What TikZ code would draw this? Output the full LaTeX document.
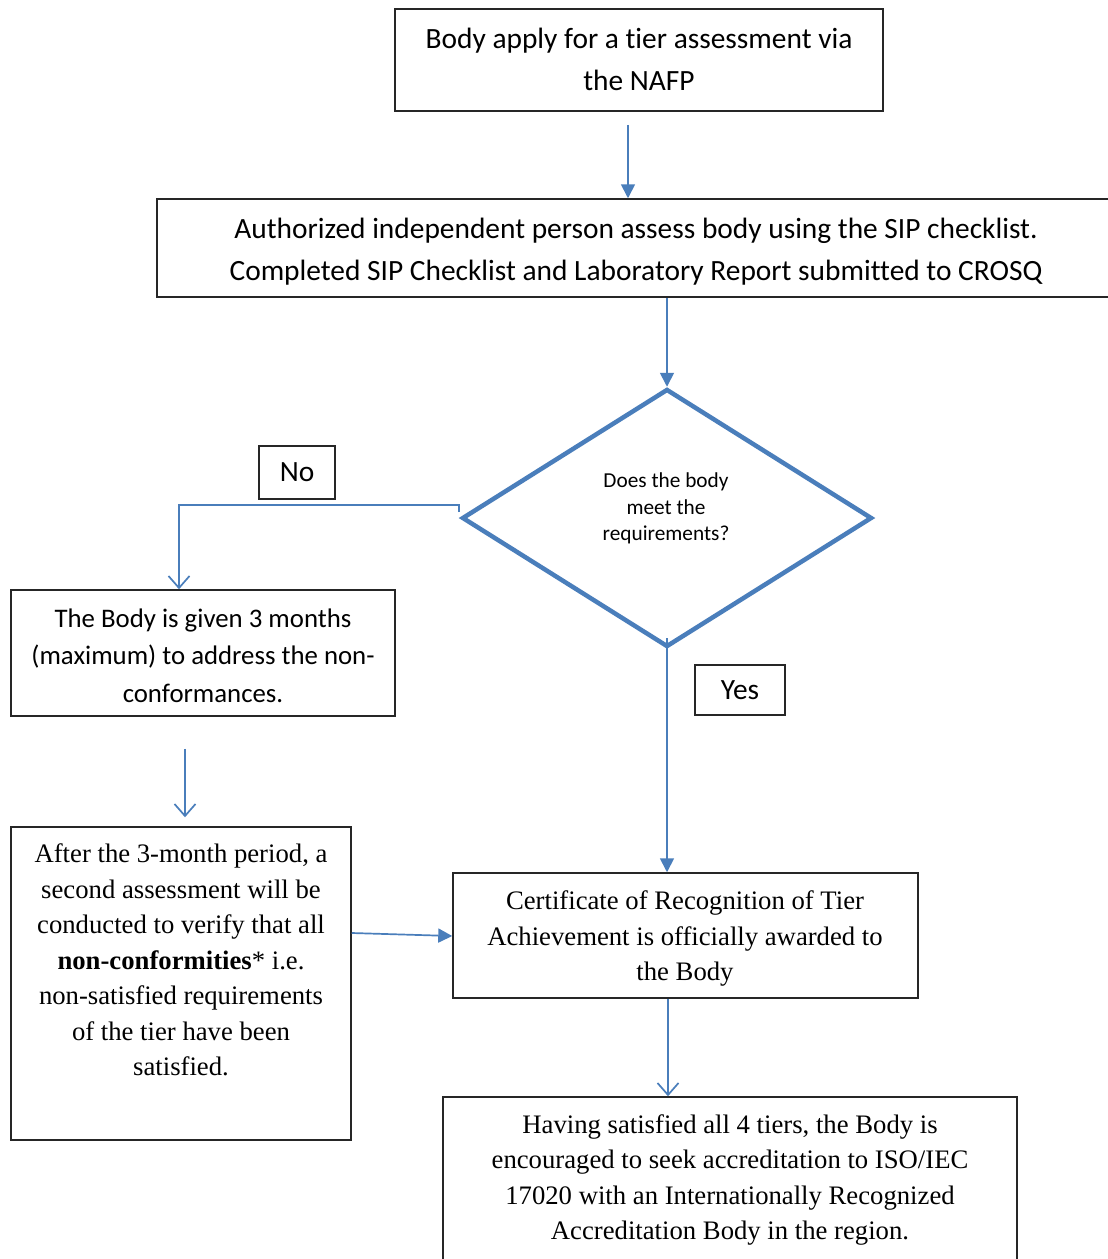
\documentclass[tikz,border=0pt]{standalone}
\usepackage{fontspec}
\setmainfont{Liberation Serif}
\newfontfamily\calfont[Ligatures={NoCommon}]{Carlito}
\usetikzlibrary{arrows.meta,shapes.geometric}
\definecolor{ablue}{HTML}{4A7EBB}
\begin{document}
\begin{tikzpicture}[x=1pt,y=-1pt,
  box/.style={draw=black!85, line width=1.5pt, inner sep=0pt},
  conn/.style={draw=ablue, line width=1.7pt},
  fa/.style={conn, -{Triangle[length=14pt,width=14pt]}},
  va/.style={conn, -{Straight Barb[length=12pt,width=21pt,line width=1.7pt]}},
  cal/.style={font=\calfont\fontsize{29.4}{41.5}\selectfont, align=center, inner sep=0pt},
  tms/.style={font=\fontsize{26.7}{35.5}\selectfont, align=center, inner sep=0pt}]
\useasboundingbox (0,0) rectangle (1108,1259);
\clip (0,0) rectangle (1108,1259);
\fill[white] (0,0) rectangle (1108,1259);

% helper coordinates
\coordinate (x628) at (628,0);
\coordinate (x179) at (179,0);
\coordinate (x185) at (185,0);
\coordinate (x668) at (668,0);
\coordinate (y933) at (0,933);
\coordinate (y936) at (0,936);

% boxes
\node[box, minimum width=488, minimum height=102] (b1) at (639,60) {};
\node[box, minimum width=968, minimum height=98] (b2) at (641,248) {};
\node[diamond, draw=ablue, line width=4.5pt, inner sep=0pt, minimum width=410, minimum height=258] (dia) at (667,518) {};
\node[box, minimum width=384, minimum height=126] (b3) at (203,653) {};
\node[box, minimum width=340, minimum height=313] (b4) at (181,983.5) {};
\node[box, minimum width=465, minimum height=125] (cert) at (685.5,935.5) {};
\node[box, minimum width=574, minimum height=178] (b5) at (730,1186) {};
\node[box, minimum width=76, minimum height=53, font=\calfont\fontsize{29.4}{34}\selectfont] (no) at (297,472.5) {No};
\node[box, minimum width=90, minimum height=50, font=\calfont\fontsize{29.4}{34}\selectfont] (yes) at (740,690) {Yes};

% texts
\node[cal] (t1) at (639,59.5) {Body apply for a tier assessment via\\the NAFP};
\node[cal] (t2) at (636,251.5) {Authorized independent person assess body using the SIP checklist.\\Completed SIP Checklist and Laboratory Report submitted to CROSQ};
\node[cal, font=\calfont\fontsize{21.3}{26.5}\selectfont] (td) at (666,508.5) {Does the body\\meet the\\requirements?};
\node[cal, font=\calfont\fontsize{26.8}{37.5}\selectfont] (t3) at (203,655.5) {The Body is given 3 months\\(maximum) to address the non-\\conformances.};
\node[tms] (t4) at (181,960) {After the 3-month period, a\\second assessment will be\\conducted to verify that all\\\textbf{non-conformities}* i.e.\\non-satisfied requirements\\of the tier have been\\satisfied.};
\node[tms] (tc) at (685,938.5) {Certificate of Recognition of Tier\\Achievement is officially awarded to\\the Body};
\node[tms] (t5) at (730,1180) {Having satisfied all 4 tiers, the Body is\\encouraged to seek accreditation to ISO/IEC\\17020 with an Internationally Recognized\\Accreditation Body in the region.};

% connectors
\draw[fa, shorten <=13pt] (b1.south -| x628) -- (b2.north -| x628);
\draw[fa] (b2.south -| dia.north) -- (dia.north);
\draw[va] ([xshift=-1pt,yshift=6pt]dia.west) -- ([xshift=-1pt,yshift=13pt]dia.west) -| (b3.north -| x179);
\draw[va, shorten <=32pt, shorten >=9pt] (b3.south -| x185) -- (b4.north -| x185);
\draw[fa] (b4.east |- y933) -- (cert.west |- y936);
\draw[fa] ([yshift=11pt]dia.south) -- (cert.north -| dia.south);
\draw[va] (cert.south -| x668) -- (b5.north -| x668);
\end{tikzpicture}
\end{document}
